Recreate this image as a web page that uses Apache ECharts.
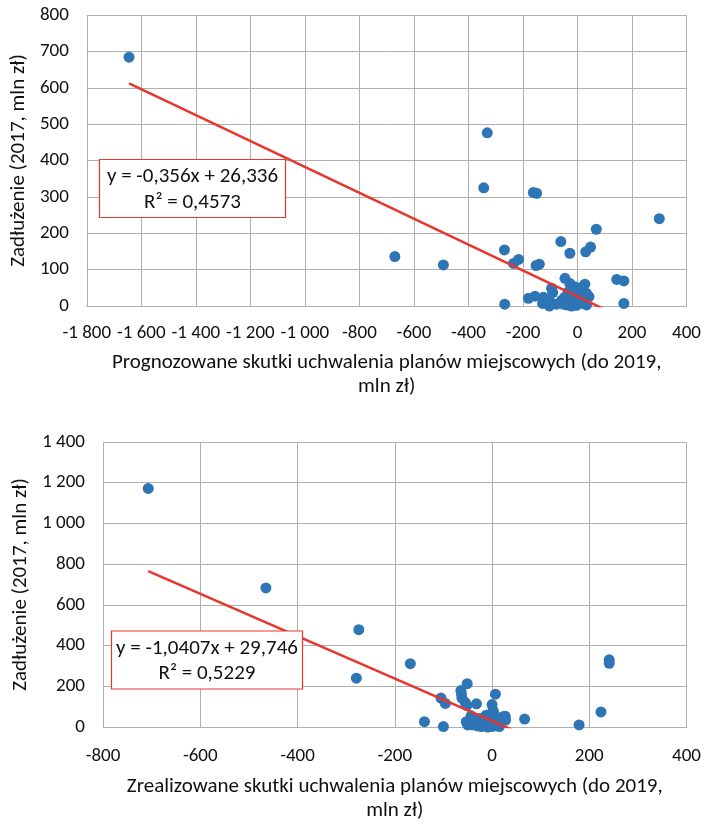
<!DOCTYPE html>
<html>
<head>
<meta charset="utf-8">
<script src="https://cdn.jsdelivr.net/npm/echarts@6/dist/echarts.min.js"></script>
<style>
  html, body { margin: 0; padding: 0; background: #fff; }
  #chart { width: 704px; height: 824px; }
</style>
</head>
<body>
<div id="chart"></div>
<script>
// wykres 1: prognozowane skutki vs zadluzenie
var progX = [-1645, -670, -492, -344, -331, -268, -267, -235, -216, -162, -150, -152, -140, -180, -156, -125, -128, -101, -103,
  -95, -91, -77, -61, -58, -52, -46, -46, -40, -34, -34, -28, -28, -28, -22, -22, -16, -10, -10, -5, -4, -2, 8, 8, 14, 21, 23,
  27, 30, 33, 33, 42, 48, 69, 144, 170, 170, 300, -15, 0, 5, -20, 12, -8, 18, -30];
var progY = [684, 136, 113, 325, 476, 154, 5, 117, 128, 312, 310, 111, 115, 21, 27, 24, 7, 12, 0,
  49, 37, 5, 177, 16, 5, 76, 25, 3, 39, 10, 145, 62, 16, 21, 0, 30, 53, 12, 35, 2, 21, 44, 16, 26, 7, 21,
  60, 149, 35, 3, 26, 162, 211, 73, 69, 7, 240, 45, 8, 30, 5, 50, 25, 12, 30];

// wykres 2: zrealizowane skutki vs zadluzenie
var realX = [-707, -465, -274, -279, -168, -139, -105, -96, -100, -64, -63, -62, -51, -55, -52, -53, -50, -43, -40, -33, -32,
  -26, -26, -19, -22, -16, -12, -9, -6, -2, 0, 0, 2, 3, 7, 8, 12, 15, 18, 22, 27, 28, 67, 179, 224, 241, 241,
  -5, 5, -12, 10, -30, -20];
var realY = [1172, 683, 478, 240, 311, 26, 142, 116, 2, 179, 163, 142, 213, 120, 106, 26, 10, 55, 10, 34, 114,
  18, 42, 42, 2, 10, 58, 0, 26, 2, 26, 110, 82, 72, 161, 42, 10, 2, 26, 50, 53, 34, 39, 10, 74, 330, 313,
  15, 5, 30, 20, 5, 25];

// linie trendu (z rownan na wykresie)
var trend1 = { slope: -0.356, intercept: 26.336, eq: 'y = -0,356x + 26,336', r2: 'R² = 0,4573' };
var trend2 = { slope: -1.0407, intercept: 29.746, eq: 'y = -1,0407x + 29,746', r2: 'R² = 0,5229' };

var FONT = 'Carlito, Calibri, Lato, sans-serif';
var TEXT = '#111';
var GRID_COLOR = '#b0b0b0';
var DOT_COLOR = '#2e75b6';
var LINE_COLOR = '#e8352e';

function fmt(v) {
  return String(v).replace(/\B(?=(\d{3})+(?!\d))/g, ' ');
}

function pairs(xs, ys) {
  return xs.map(function (x, i) { return [x, ys[i]]; });
}

function trendLine(xs, t) {
  var lo = Math.min.apply(null, xs), hi = Math.max.apply(null, xs);
  return [[lo, t.slope * lo + t.intercept], [hi, t.slope * hi + t.intercept]];
}

function xAxis(idx, min, max, name, margin, gap) {
  return {
    gridIndex: idx, type: 'value', min: min, max: max, interval: 200,
    axisLine: { show: true, lineStyle: { color: GRID_COLOR } },
    axisTick: { show: false },
    splitLine: { show: true, lineStyle: { color: GRID_COLOR, width: 1 } },
    axisLabel: { formatter: fmt, color: TEXT, fontFamily: FONT, fontSize: 19, margin: margin },
    name: name, nameLocation: 'middle', nameGap: gap,
    nameTextStyle: { color: TEXT, fontFamily: FONT, fontSize: 21, lineHeight: 24 }
  };
}

function yAxis(idx, max, interval, gap) {
  return {
    gridIndex: idx, type: 'value', min: 0, max: max, interval: interval,
    axisLine: { show: true, lineStyle: { color: GRID_COLOR } },
    axisTick: { show: false },
    splitLine: { show: true, lineStyle: { color: GRID_COLOR, width: 1 } },
    axisLabel: { formatter: fmt, color: TEXT, fontFamily: FONT, fontSize: 19, margin: 18 },
    name: 'Zadłużenie (2017, mln zł)', nameLocation: 'middle', nameRotate: 90, nameGap: gap,
    nameTextStyle: { color: TEXT, fontFamily: FONT, fontSize: 21 }
  };
}

function eqBox(x, y, w, h, t) {
  var cx = x + w / 2;
  return [
    { type: 'rect', z: 100, shape: { x: x, y: y, width: w, height: h },
      style: { fill: '#fff', stroke: LINE_COLOR, lineWidth: 1.2 } },
    { type: 'text', z: 101, x: cx, y: y + h * 0.3,
      style: { text: t.eq, align: 'center', verticalAlign: 'middle', fill: TEXT, font: '21px ' + FONT } },
    { type: 'text', z: 101, x: cx, y: y + h * 0.74,
      style: { text: t.r2, align: 'center', verticalAlign: 'middle', fill: TEXT, font: '21px ' + FONT } }
  ];
}

var chart = echarts.init(document.getElementById('chart'));
chart.setOption({
  animation: false,
  backgroundColor: '#fff',
  grid: [
    { left: 83.5, top: 15, width: 603.5, height: 291 },
    { left: 103, top: 442, width: 584.5, height: 290 }
  ],
  xAxis: [
    xAxis(0, -1800, 400, 'Prognozowane skutki uchwalenia planów miejscowych (do 2019,\nmln zł)', 18, 45),
    xAxis(1, -800, 400, 'Zrealizowane skutki uchwalenia planów miejscowych (do 2019,\nmln zł)', 20, 48)
  ],
  yAxis: [
    yAxis(0, 800, 100, 46),
    yAxis(1, 1400, 200, 66)
  ],
  series: [
    { type: 'scatter', xAxisIndex: 0, yAxisIndex: 0, symbolSize: 11,
      itemStyle: { color: DOT_COLOR, opacity: 1 }, data: pairs(progX, progY) },
    { type: 'line', xAxisIndex: 0, yAxisIndex: 0, clip: true, symbol: 'none', z: 5,
      lineStyle: { color: LINE_COLOR, width: 2.5 }, data: trendLine(progX, trend1) },
    { type: 'scatter', xAxisIndex: 1, yAxisIndex: 1, symbolSize: 11,
      itemStyle: { color: DOT_COLOR, opacity: 1 }, data: pairs(realX, realY) },
    { type: 'line', xAxisIndex: 1, yAxisIndex: 1, clip: true, symbol: 'none', z: 5,
      lineStyle: { color: LINE_COLOR, width: 2.5 }, data: trendLine(realX, trend2) }
  ],
  graphic: eqBox(99.5, 159.5, 186, 58, trend1).concat(eqBox(111.5, 631, 191, 58, trend2))
});
</script>
</body>
</html>
